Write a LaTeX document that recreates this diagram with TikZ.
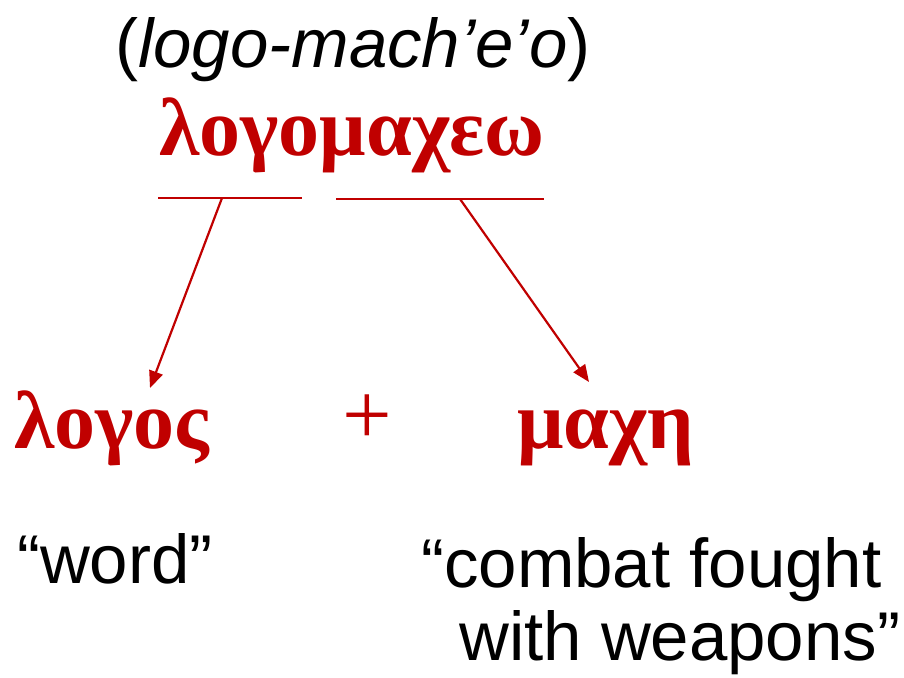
\documentclass[tikz,border=0pt]{standalone}
\usepackage{fontspec}
\setmainfont{Liberation Serif}
\newfontfamily\arialf{Liberation Sans}
\usetikzlibrary{arrows.meta}
\definecolor{gred}{HTML}{C00000}
\begin{document}
\begin{tikzpicture}[x=1pt,y=-1pt,
  greek/.style={inner sep=0pt,text=gred,font=\fontsize{82}{96}\selectfont\bfseries},
  plainsans/.style={inner sep=0pt,text=black,font=\arialf\fontsize{69}{80}\selectfont},
  underl/.style={draw=gred,line width=2.5pt},
  arr/.style={draw=gred,line width=2.2pt,-{Triangle[length=17pt,width=14pt]}}]
\useasboundingbox (0,0) rectangle (904,677);
\node[plainsans,anchor=base west] (pron) at (115,67) {(\textit{logo-mach’e’o})};
\node[greek,anchor=base west] (word) at (159,155) {λογομαχεω};
\coordinate (ul1) at (158,198);
\coordinate (ul2) at (302,198);
\coordinate (ur1) at (336,199);
\coordinate (ur2) at (544,199);
\draw[underl] (ul1) -- (ul2);
\draw[underl] (ur1) -- (ur2);
\coordinate (al) at (222,198);
\coordinate (ar) at (460,199);
\coordinate (tl) at (150,388);
\coordinate (tr) at (589,382);
\draw[arr] (al) -- (tl);
\draw[arr] (ar) -- (tr);
\node[greek,anchor=base west] (logos) at (14,448) {λογος};
\node[inner sep=0pt,text=gred,font=\fontsize{88}{96}\selectfont,anchor=base west] (plus) at (342,444) {+};
\node[greek,anchor=base west] (mache) at (517,448) {μαχη};
\node[plainsans,anchor=base west] (gl1) at (17,583) {“word”};
\node[plainsans,anchor=base west] (gl2) at (421,587) {“combat fought};
\node[plainsans,anchor=base west] (gl3) at (459,660) {with weapons”};
\end{tikzpicture}
\end{document}
